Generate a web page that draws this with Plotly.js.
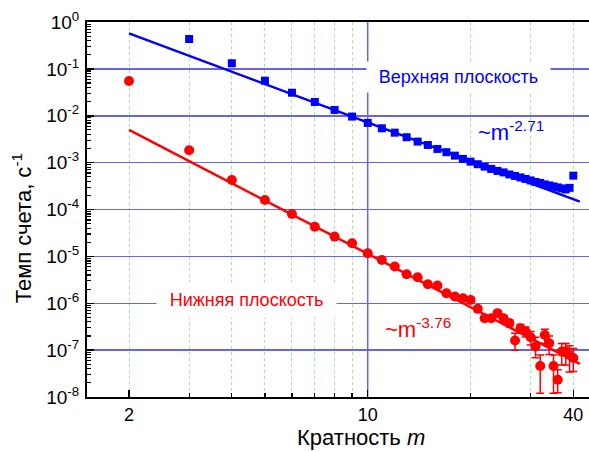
<!DOCTYPE html>
<html>
<head>
<meta charset="utf-8">
<script src="https://cdn.plot.ly/plotly-3.0.1.min.js"></script>
<style>html,body{margin:0;padding:0;background:#fff;}#chart{width:589px;height:452px;}</style>
</head>
<body>
<div id="chart"></div>
<script>
// Upper plane (blue squares)
var mUpper = [3,4,5,6,7,8,9,10,11,12,13,14,15,16,17,18,19,20,21,22,23,24,25,26,27,28,29,30,31,32,33,34,35,36,37,38,39,40];
var rateUpper = [0.434,0.132,0.056,0.031,0.0197,0.0133,0.0096,0.00703,0.0054,0.00436,
  0.00348,0.00281,0.00238,0.00196,0.00167,0.00141,0.0012,0.00105,0.000924,0.000822,
  0.000734,0.000665,0.000618,0.00056,0.00052,0.000483,0.000449,0.000417,0.000387,0.000369,
  0.000343,0.000326,0.000311,0.000296,0.000282,0.000268,0.00029,0.000528];

// Lower plane (red circles)
var mLower = [2,3,4,5,6,7,8,9,10,11,12,13,14,15,16,17,18,19,20,21,22,23,24,25,26,27,28,29,30,31,32,33,34,35,36,37,38,39,40];
var rateLower = [0.0552,0.00184,4.27e-4,1.6e-4,8.05e-5,4.3e-5,2.64e-5,1.9e-5,1.17e-5,8.4e-6,
  6.07e-6,4.17e-6,3.6e-6,2.55e-6,2.39e-6,1.64e-6,1.39e-6,1.28e-6,1.18e-6,7.6e-7,
  4.8e-7,4.8e-7,6.15e-7,4.8e-7,3.77e-7,1.6e-7,2.94e-7,2.5e-7,1.89e-7,1.19e-7,
  4.6e-8,2.1e-7,1.41e-7,4.6e-8,2.33e-8,9.3e-8,9.3e-8,7.9e-8,6.8e-8];
var errLowerPlus = [0,0,0,0,0,0,0,0,0,0,
  0,0,0,0,0,0,0,0,0,0,
  5e-8,5e-8,6e-8,6e-8,6e-8,7e-8,6e-8,6e-8,6e-8,7e-8,
  3.3e-8,7e-8,6e-8,3.3e-8,1.5e-8,4.5e-8,4.5e-8,4.5e-8,4e-8];
var errLowerMinus = [0,0,0,0,0,0,0,0,0,0,
  0,0,0,0,0,0,0,0,0,0,
  5e-8,5e-8,6e-8,6e-8,6e-8,6e-8,6e-8,6e-8,6e-8,5e-8,
  3.4e-8,7e-8,6e-8,3.4e-8,1.1e-8,4.5e-8,4.5e-8,4.5e-8,3.3e-8];

// Power-law fits (endpoints)
var fitX = [2, 41.8];
var fitUpper = [0.574, 1.47e-4];
var fitLower = [0.00498, 5.1e-8];

// Tick labels
var xTickVals = [2, 10, 40];
var xTickText = ['2', '10', '40'];
var xMinorVals = [2,3,4,5,6,7,8,9,20,30,40];
var yTickVals = [1, 1e-1, 1e-2, 1e-3, 1e-4, 1e-5, 1e-6, 1e-7, 1e-8];
var yTickText = ['10<sup>0</sup>','10<sup>-1</sup>','10<sup>-2</sup>','10<sup>-3</sup>','10<sup>-4</sup>','10<sup>-5</sup>','10<sup>-6</sup>','10<sup>-7</sup>','10<sup>-8</sup>'];
var yMinorVals = [];
for (var k = -8; k < 0; k++) { for (var j = 2; j <= 9; j++) { yMinorVals.push(j * Math.pow(10, k)); } }

var FONT = 'Liberation Sans, Arial, sans-serif';
var BLUE = '#0000ff', RED = '#ff0000', GRIDBLUE = '#6464f0';

var traces = [
  {x: fitX, y: fitUpper, mode: 'lines', line: {color: BLUE, width: 2.5}, hoverinfo: 'skip'},
  {x: fitX, y: fitLower, mode: 'lines', line: {color: RED, width: 2.5}, hoverinfo: 'skip'},
  {x: mUpper, y: rateUpper, mode: 'markers', marker: {symbol: 'square', size: 8, color: BLUE}},
  {x: mLower, y: rateLower, mode: 'markers', marker: {symbol: 'circle', size: 10, color: RED},
   error_y: {type: 'data', symmetric: false, array: errLowerPlus, arrayminus: errLowerMinus, color: RED, thickness: 1.5, width: 4}}
];

var layout = {
  width: 589, height: 452,
  margin: {l: 87, r: 0, t: 22, b: 55},
  paper_bgcolor: '#fff', plot_bgcolor: '#fff',
  showlegend: false,
  font: {family: FONT, size: 18, color: '#000'},
  xaxis: {
    type: 'log', range: [0.178, 1.648],
    tickmode: 'array', tickvals: xTickVals, ticktext: xTickText,
    ticks: 'inside', ticklen: 7, tickwidth: 1.5, tickcolor: '#000',
    showline: true, linecolor: '#000', linewidth: 2, mirror: true,
    showgrid: false, zeroline: false,
    tickfont: {family: FONT, size: 18, color: '#000'},
    minor: {tickmode: 'array', tickvals: xMinorVals, ticks: 'inside', ticklen: 4, tickwidth: 1.2, tickcolor: '#000',
            showgrid: true, gridcolor: '#9be89b', griddash: 'dot', gridwidth: 1}
  },
  yaxis: {
    type: 'log', range: [-8, 0],
    tickmode: 'array', tickvals: yTickVals, ticktext: yTickText,
    ticks: 'inside', ticklen: 7, tickwidth: 1.5, tickcolor: '#000',
    showline: true, linecolor: '#000', linewidth: 2, mirror: false,
    showgrid: true, gridcolor: GRIDBLUE, gridwidth: 1.5, zeroline: false,
    tickfont: {family: FONT, size: 19, color: '#000'},
    ticklabelstandoff: 2,
    minor: {tickmode: 'array', tickvals: yMinorVals, ticks: 'inside', ticklen: 4, tickwidth: 1.2, tickcolor: '#000', showgrid: false}
  },
  shapes: [
    {type: 'line', xref: 'x', yref: 'paper', x0: 10, x1: 10, y0: 0, y1: 1, layer: 'below',
     line: {color: GRIDBLUE, width: 1.5}}
  ],
  annotations: [
    {xref: 'paper', yref: 'paper', x: 0.740, y: 0.853, xanchor: 'center', yanchor: 'middle',
     text: 'Верхняя плоскость', showarrow: false,
     font: {family: FONT, size: 18, color: BLUE}, bgcolor: '#fff', width: 175, height: 22, borderpad: 4},
    {xref: 'paper', yref: 'paper', x: 0.3177, y: 0.2587, xanchor: 'center', yanchor: 'middle',
     text: 'Нижняя плоскость', showarrow: false,
     font: {family: FONT, size: 18, color: RED}, bgcolor: '#fff', width: 171, height: 26, borderpad: 4},
    {xref: 'paper', yref: 'paper', x: 0.775, y: 0.71, xanchor: 'left', yanchor: 'middle',
     text: '~m<sup>-2.71</sup>', showarrow: false, font: {family: FONT, size: 22, color: BLUE}},
    {xref: 'paper', yref: 'paper', x: 0.5896, y: 0.184, xanchor: 'left', yanchor: 'middle',
     text: '~m<sup>-3.76</sup>', showarrow: false, font: {family: FONT, size: 22, color: RED}},
    {xref: 'paper', yref: 'paper', x: 0.546, y: -0.109, xanchor: 'center', yanchor: 'middle',
     text: 'Кратность <i>m</i>', showarrow: false, font: {family: FONT, size: 22, color: '#000'}},
    {xref: 'paper', yref: 'paper', x: -0.129, y: 0.4507, xanchor: 'center', yanchor: 'middle', textangle: -90,
     text: 'Темп счета, с<sup>-1</sup>', showarrow: false, font: {family: FONT, size: 22, color: '#000'}}
  ]
};

Plotly.newPlot('chart', traces, layout, {displayModeBar: false, staticPlot: true});
</script>
</body>
</html>
